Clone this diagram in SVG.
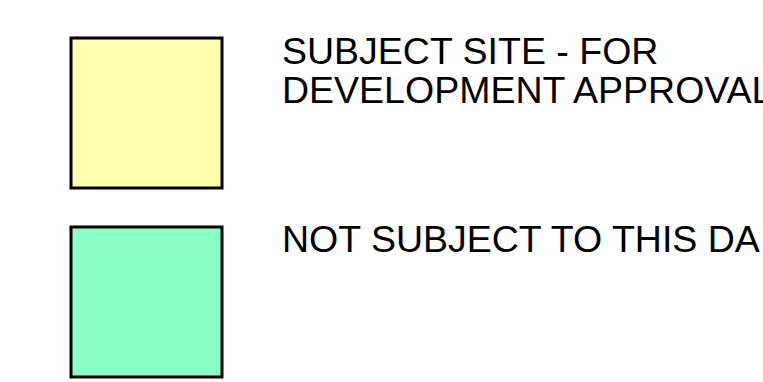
<svg xmlns="http://www.w3.org/2000/svg" width="763" height="382" viewBox="0 0 763 382">
<style>
.sw{stroke:#000;stroke-width:3}
.t{font-family:"Liberation Sans",Arial,sans-serif;font-size:37.5px;fill:#000}
</style>
<rect width="763" height="382" fill="#fff"/>
<g id="legend-subject">
<rect class="sw" x="71" y="38" width="151" height="150" fill="#fdfdad"/>
<text class="t" x="282" y="64">SUBJECT SITE - FOR</text>
<text class="t" x="282" y="103">DEVELOPMENT APPROVAL</text>
</g>
<g id="legend-not-subject">
<rect class="sw" x="71" y="227" width="151" height="150" fill="#8cffc8"/>
<text class="t" x="282" y="252">NOT SUBJECT TO THIS DA</text>
</g>
<g id="connectors"/>
</svg>
